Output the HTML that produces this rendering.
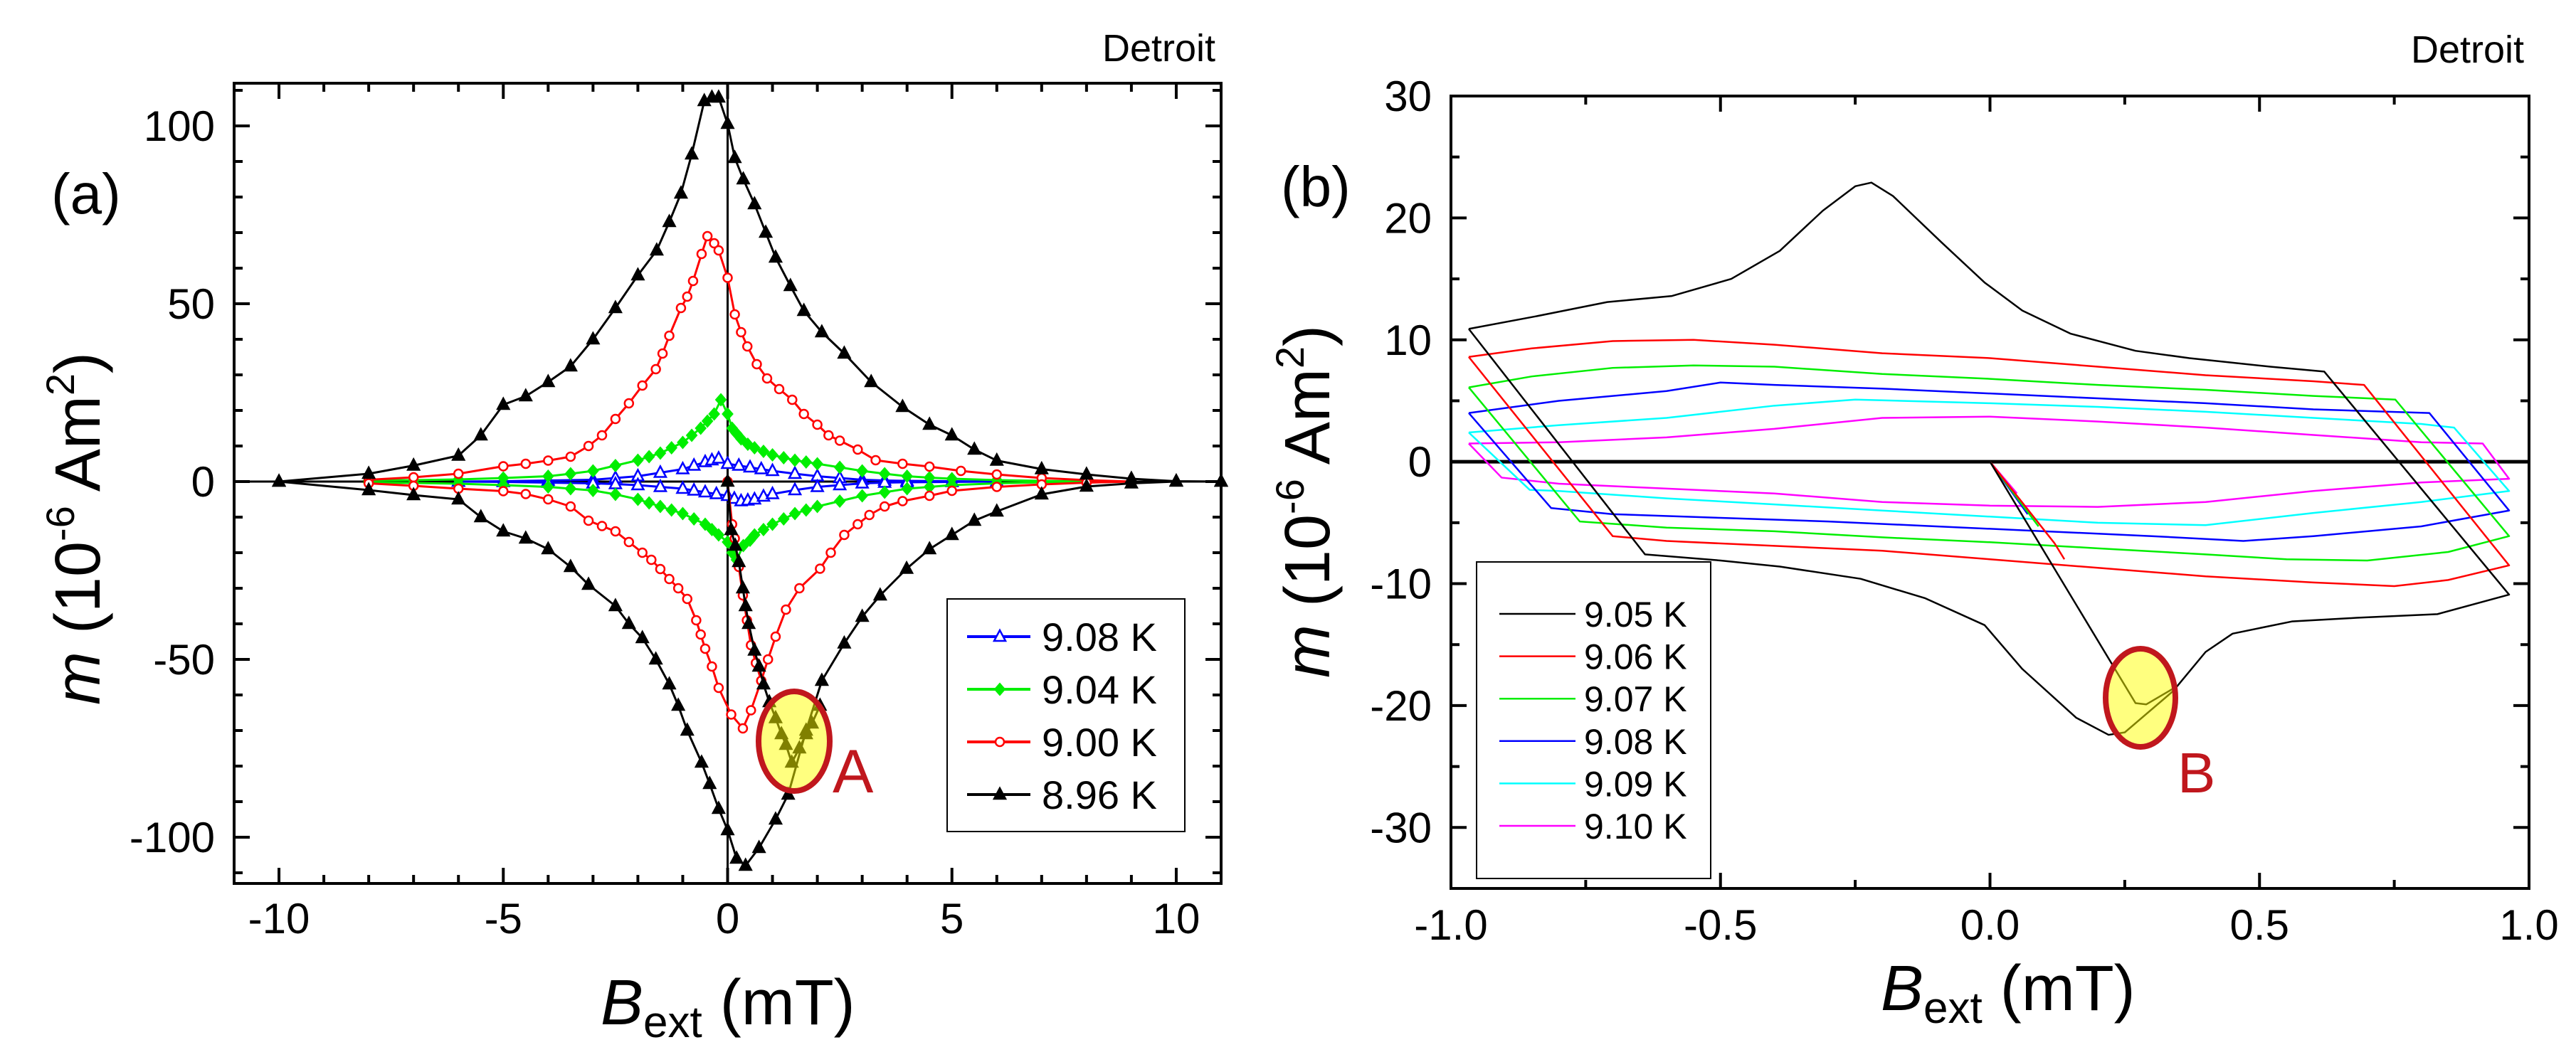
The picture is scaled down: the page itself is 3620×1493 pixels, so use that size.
<!DOCTYPE html>
<html><head><meta charset="utf-8">
<style>
html,body{margin:0;padding:0;background:#fff;}
svg{display:block;font-family:"Liberation Sans",sans-serif;}
</style></head>
<body>
<svg id="fig" width="3620" height="1493" viewBox="0 0 3620 1493" xmlns="http://www.w3.org/2000/svg">
<rect width="3620" height="1493" fill="#fff"/>
</svg>
<script>
// ---------- Panel (a) data ----------
const aXTicks = [-10, -5, 0, 5, 10];
const aYTicks = [100, 50, 0, -50, -100];
const aLegendLabels = ["9.08 K", "9.04 K", "9.00 K", "8.96 K"];
const aBlackUpper = [[-10,0],[-8,2.2],[-7,4.5],[-6,7.3],[-5.5,13],[-5,21.6],[-4.5,24],[-4,28],[-3.5,32.4],[-3,40],[-2.5,48.8],[-2,58],[-1.58,65],[-1.3,73],[-1.04,81],[-0.8,92],[-0.52,107],[-0.35,108],[-0.2,108],[0,100.6],[0.16,91],[0.35,85],[0.6,78],[0.85,70],[1.07,63],[1.4,55],[1.7,48],[2.1,42],[2.6,36],[3.2,28],[3.9,21],[4.5,16],[5,13],[5.5,9],[6,5.9],[7,3.5],[8,2],[9,0.8],[10,0.1],[11,0]];
const aBlackLower = [[-10,0],[-8,-2.4],[-7,-3.8],[-6,-5],[-5.5,-10],[-5,-14],[-4.5,-16],[-4,-19],[-3.5,-24],[-3.1,-29],[-2.5,-35],[-2.2,-40],[-1.9,-44],[-1.6,-50],[-1.3,-57],[-1.1,-63],[-0.9,-70],[-0.58,-79],[-0.4,-85],[-0.2,-92],[0,-98],[0.2,-106],[0.4,-108],[0.7,-103],[1.07,-95],[1.35,-88],[1.75,-70],[2.1,-56],[2.6,-45.5],[3,-38],[3.4,-32],[3.99,-24.5],[4.5,-19],[5,-15],[5.5,-11],[6,-8.4],[7,-3.6],[8,-1.4],[9,-0.5],[10,0],[11,0]];
const aBlackVirgin = [[0,0],[0.08,-13.6],[0.17,-18],[0.25,-22.6],[0.34,-30],[0.4,-35],[0.47,-40],[0.6,-47.5],[0.7,-52],[0.8,-57],[0.93,-62],[1.07,-66.5],[1.2,-71],[1.3,-74],[1.43,-79],[1.6,-75],[1.75,-71],[1.88,-68],[2.06,-63]];
const aRedUpper = [[-8,0.5],[-7,1.2],[-6,2.2],[-5,4.3],[-4.5,5],[-4,5.9],[-3.5,7],[-3.1,10],[-2.8,13],[-2.5,17.6],[-2.2,22],[-1.9,27],[-1.6,31.6],[-1.45,36],[-1.3,41],[-1.04,48.8],[-0.9,52],[-0.77,56.4],[-0.58,64],[-0.45,69],[-0.3,67],[-0.2,65],[0,57.3],[0.16,47],[0.3,42],[0.44,38],[0.65,33],[0.88,29],[1.15,26],[1.44,23],[1.7,19],[2,16],[2.25,13],[2.5,11.5],[2.9,9],[3.3,6],[3.9,5],[4.5,4.2],[5.2,3],[6,2],[7,1],[8,0.4],[9,0]];
const aRedLower = [[-8,-0.5],[-7,-1.2],[-6,-2],[-5,-2.7],[-4.5,-3.5],[-4,-5],[-3.5,-7],[-3.1,-11],[-2.8,-12.5],[-2.5,-14],[-2.2,-17],[-1.9,-20],[-1.7,-22],[-1.5,-24.6],[-1.3,-27.4],[-1.1,-30],[-0.9,-33],[-0.7,-39],[-0.6,-43],[-0.5,-47],[-0.35,-52],[-0.2,-58],[0.08,-65.5],[0.34,-69.4],[0.52,-64.3],[0.75,-56],[0.9,-50],[1.07,-43.6],[1.3,-36],[1.6,-30],[2.06,-24.5],[2.3,-20],[2.6,-15],[2.9,-12],[3.16,-9.4],[3.5,-7],[3.9,-5.5],[4.5,-4],[5,-2.6],[6,-1.5],[7,-0.8],[8,-0.3],[9,0]];
const aRedVirgin = [[0,0],[0.1,-12],[0.16,-16],[0.25,-24],[0.34,-32],[0.43,-39],[0.52,-46],[0.63,-51],[0.75,-56]];
const aGreenUpper = [[-8,0.3],[-7,0.4],[-6,0.6],[-5,1],[-4,1.5],[-3.5,2.2],[-3,3],[-2.5,4.5],[-2,6],[-1.75,7],[-1.5,8],[-1.25,9.5],[-1,11],[-0.8,13],[-0.6,15],[-0.45,17],[-0.3,19],[-0.15,23],[0,19],[0.1,15],[0.2,13.5],[0.3,12],[0.45,10.5],[0.6,9.5],[0.8,8.5],[1,7.5],[1.25,6.7],[1.5,6],[1.75,5.5],[2,5],[2.5,4],[3,3],[3.5,2.2],[4,1.5],[4.5,1.1],[5,0.8],[6,0.4],[7,0.2],[8,0]];
const aGreenLower = [[-8,-0.3],[-7,-0.4],[-6,-0.6],[-5,-1],[-4,-1.5],[-3.5,-2],[-3,-2.5],[-2.5,-3.6],[-2,-5],[-1.75,-6],[-1.5,-7],[-1.25,-8],[-1,-9],[-0.75,-10.5],[-0.5,-12],[-0.35,-13.5],[-0.2,-15],[0,-17],[0.1,-20],[0.2,-22],[0.35,-18],[0.5,-16.5],[0.6,-15],[0.8,-13.5],[1,-12],[1.25,-10.5],[1.5,-9],[1.75,-8],[2,-7],[2.5,-5.5],[3,-4],[3.5,-3],[4,-2],[4.5,-1.5],[5,-1],[6,-0.5],[7,-0.2],[8,0]];
const aBlueUpper = [[-6,0],[-5,0.1],[-4,0.3],[-3,0.5],[-2.5,1],[-2,1.5],[-1.5,2.5],[-1,3.5],[-0.75,4.5],[-0.5,5.5],[-0.35,6],[-0.2,6.5],[0,5],[0.25,4.5],[0.5,4],[0.75,3.5],[1,3],[1.5,2.2],[2,1.5],[2.5,1],[3,0.5],[3.5,0.3],[4,0.2],[5,0.1],[6,0]];
const aBlueLower = [[-6,0],[-5,-0.1],[-4,-0.3],[-3,-0.5],[-2.5,-0.7],[-2,-1],[-1.5,-1.5],[-1,-2],[-0.75,-2.5],[-0.5,-3],[-0.25,-3.5],[0,-4],[0.15,-4.8],[0.3,-5.5],[0.45,-5.3],[0.6,-5],[0.8,-4.2],[1,-3.5],[1.5,-2.4],[2,-1.5],[2.5,-1],[3,-0.5],[3.5,-0.3],[4,-0.2],[5,-0.1],[6,0]];

// ---------- Panel (b) data ----------
const bXTicks = [-1.0, -0.5, 0.0, 0.5, 1.0];
const bXTickLabels = ["-1.0", "-0.5", "0.0", "0.5", "1.0"];
const bYTicks = [30, 20, 10, 0, -10, -20, -30];
const bLegendLabels = ["9.05 K", "9.06 K", "9.07 K", "9.08 K", "9.09 K", "9.10 K"];
const bBlackLoop = [[-0.967,10.9],[-0.846,11.9],[-0.71,13.1],[-0.59,13.6],[-0.48,15],[-0.39,17.3],[-0.31,20.6],[-0.25,22.6],[-0.22,22.9],[-0.18,21.8],[-0.09,18],[-0.01,14.7],[0.06,12.4],[0.15,10.5],[0.27,9.1],[0.37,8.5],[0.52,7.8],[0.62,7.4],[0.963,-10.9],[0.83,-12.5],[0.68,-12.8],[0.56,-13.1],[0.45,-14.1],[0.4,-15.6],[0.34,-18.8],[0.25,-22.2],[0.22,-22.4],[0.16,-21],[0.06,-17],[-0.01,-13.4],[-0.12,-11.2],[-0.24,-9.6],[-0.39,-8.6],[-0.5,-8.1],[-0.64,-7.6],[-0.967,10.9]];
const bBlackVirgin = [[0,0],[0.27,-19.8],[0.29,-19.9],[0.34,-18.6]];
const bRedLoop = [[-0.967,8.6],[-0.85,9.3],[-0.7,9.9],[-0.55,10],[-0.4,9.6],[-0.2,8.9],[0,8.5],[0.2,7.8],[0.4,7.1],[0.6,6.6],[0.694,6.3],[0.963,-8.5],[0.85,-9.7],[0.75,-10.2],[0.6,-9.9],[0.4,-9.4],[0.2,-8.7],[0,-8],[-0.2,-7.3],[-0.4,-6.9],[-0.6,-6.5],[-0.7,-6.1],[-0.967,8.6]];
const bRedVirgin = [[0,0],[0.12,-6.7],[0.138,-8.0]];
const bGreenLoop = [[-0.967,6.1],[-0.85,7],[-0.7,7.7],[-0.55,7.9],[-0.4,7.8],[-0.2,7.2],[0,6.8],[0.2,6.3],[0.4,5.9],[0.6,5.4],[0.752,5.1],[0.963,-6.1],[0.85,-7.4],[0.7,-8.1],[0.55,-8.0],[0.4,-7.6],[0.2,-7.1],[0,-6.6],[-0.2,-6.2],[-0.4,-5.7],[-0.6,-5.4],[-0.761,-4.9],[-0.967,6.1]];
const bGreenVirgin = [[0,0],[0.09,-5.3]];
const bBlueLoop = [[-0.967,4.0],[-0.8,5],[-0.6,5.8],[-0.5,6.5],[-0.4,6.3],[-0.2,6],[0,5.6],[0.2,5.2],[0.4,4.8],[0.6,4.3],[0.815,4.0],[0.963,-4.0],[0.8,-5.3],[0.6,-6.1],[0.47,-6.5],[0.3,-6.1],[0.1,-5.7],[-0.1,-5.3],[-0.3,-4.9],[-0.5,-4.6],[-0.7,-4.3],[-0.814,-3.8],[-0.967,4.0]];
const bBlueVirgin = [[0,0],[0.07,-4.3]];
const bCyanLoop = [[-0.967,2.4],[-0.8,3],[-0.6,3.6],[-0.4,4.6],[-0.25,5.1],[0,4.8],[0.2,4.5],[0.4,4.1],[0.6,3.6],[0.8,3.1],[0.861,2.8],[0.963,-2.4],[0.8,-3.3],[0.6,-4.2],[0.4,-5.2],[0.2,-5],[0,-4.5],[-0.2,-4],[-0.4,-3.5],[-0.6,-3],[-0.8,-2.4],[-0.854,-2.3],[-0.967,2.4]];
const bCyanVirgin = [[0,0],[0.06,-3.4]];
const bMagentaLoop = [[-0.967,1.5],[-0.8,1.6],[-0.6,2],[-0.4,2.7],[-0.2,3.6],[0,3.7],[0.2,3.3],[0.4,2.8],[0.6,2.2],[0.8,1.6],[0.914,1.5],[0.963,-1.4],[0.8,-1.7],[0.6,-2.4],[0.4,-3.3],[0.2,-3.7],[0,-3.6],[-0.2,-3.3],[-0.4,-2.6],[-0.6,-2.2],[-0.8,-1.8],[-0.906,-1.3],[-0.967,1.5]];
const bMagentaVirgin = [[0,0],[0.05,-2.6]];

const NS = "http://www.w3.org/2000/svg";
const svg = document.getElementById("fig");
function mk(tag, attrs, parent) {
  const e = document.createElementNS(NS, tag);
  for (const k in attrs) e.setAttribute(k, attrs[k]);
  (parent || svg).appendChild(e);
  return e;
}
function txt(str, attrs, parent) { const t = mk("text", attrs, parent); t.textContent = str; return t; }

// ---------- Panel (a) ----------
const A = {x0:329, x1:1716, y0:117, y1:1242, xmin:-11, xmax:11, ymin:-113, ymax:112};
const ax = v => A.x0 + (v - A.xmin) / (A.xmax - A.xmin) * (A.x1 - A.x0);
const ay = v => A.y1 - (v - A.ymin) / (A.ymax - A.ymin) * (A.y1 - A.y0);
const gA = mk("g", {});



const zeroA = mk("g", {}, gA);


mk("line", {x1:A.x0, x2:A.x1, y1:ay(0), y2:ay(0), stroke:"#000", "stroke-width":3}, zeroA);
mk("line", {x1:ax(0), x2:ax(0), y1:A.y0, y2:A.y1, stroke:"#000", "stroke-width":3}, zeroA);

function polyA(pts, color, name, parent) {
  const p = mk("polyline", {points: pts.map(q => ax(q[0]) + "," + ay(q[1])).join(" "), fill:"none", stroke:color, "stroke-width":3, "stroke-linejoin":"round"}, parent);
  
  
}
function marker(kind, x, y, color, parent) {
  const s = 8;
  if (kind === "tri" || kind === "otri") {
    mk("polygon", {points:`${x},${y-s-1} ${x-s},${y+s-2} ${x+s},${y+s-2}`, fill: kind==="tri"?color:"#fff", stroke:color, "stroke-width":2.5}, parent);
  } else if (kind === "dia") {
    mk("polygon", {points:`${x},${y-s} ${x+s-1},${y} ${x},${y+s} ${x-s+1},${y}`, fill:color, stroke:color, "stroke-width":2}, parent);
  } else {
    mk("circle", {cx:x, cy:y, r:s-2, fill:"#fff", stroke:color, "stroke-width":2.5}, parent);
  }
}
function seriesA(arrs, color, kind, name) {
  const g = mk("g", {}, gA);
  
  
  arrs.forEach((pts, i) => {
    polyA(pts, color, name + "-line-" + i, g);
    pts.forEach(q => marker(kind, ax(q[0]), ay(q[1]), color, g));
  });
}
seriesA([aBlueUpper, aBlueLower], "#0000ff", "otri", "series-9-08k");
seriesA([aGreenUpper, aGreenLower], "#00ee00", "dia", "series-9-04k");
seriesA([aRedUpper, aRedLower, aRedVirgin], "#ff0000", "circ", "series-9-00k");
seriesA([aBlackUpper, aBlackLower, aBlackVirgin], "#000000", "tri", "series-8-96k");

function frameTicks(g, X0, X1, Y0, Y1, xMaj, xMin, yMaj, yMin) {
  mk("rect", {x:X0, y:Y0, width:X1-X0, height:Y1-Y0, fill:"none", stroke:"#000", "stroke-width":4}, g);
  xMin.forEach(x => { mk("line",{x1:x,x2:x,y1:Y1,y2:Y1-12,stroke:"#000","stroke-width":4},g); mk("line",{x1:x,x2:x,y1:Y0,y2:Y0+12,stroke:"#000","stroke-width":4},g); });
  xMaj.forEach(x => { mk("line",{x1:x,x2:x,y1:Y1,y2:Y1-22,stroke:"#000","stroke-width":4},g); mk("line",{x1:x,x2:x,y1:Y0,y2:Y0+22,stroke:"#000","stroke-width":4},g); });
  yMin.forEach(y => { mk("line",{x1:X0,x2:X0+12,y1:y,y2:y,stroke:"#000","stroke-width":4},g); mk("line",{x1:X1,x2:X1-12,y1:y,y2:y,stroke:"#000","stroke-width":4},g); });
  yMaj.forEach(y => { mk("line",{x1:X0,x2:X0+22,y1:y,y2:y,stroke:"#000","stroke-width":4},g); mk("line",{x1:X1,x2:X1-22,y1:y,y2:y,stroke:"#000","stroke-width":4},g); });
}
const axA = mk("g", {}, gA);


const aXMin = []; for (let v = -11; v <= 11; v++) if (v % 5) aXMin.push(ax(v));
const aYMin = []; for (let v = -110; v <= 110; v += 10) if (v % 50) aYMin.push(ay(v));
frameTicks(axA, A.x0, A.x1, A.y0, A.y1, aXTicks.map(ax), aXMin, aYTicks.map(ay), aYMin);

aXTicks.forEach(v => {
  const t = txt(String(v), {x:ax(v), y:1312, "font-size":60, "text-anchor":"middle"}, gA);
  
  
});
aYTicks.forEach(v => {
  const t = txt(String(v), {x:302, y:ay(v)+21, "font-size":60, "text-anchor":"end"}, gA);
  
  
});

// legend a
const legA = mk("g", {}, gA);


mk("rect", {x:1331, y:842, width:334, height:327, fill:"#fff", stroke:"#000", "stroke-width":2}, legA);
const legAColors = ["#0000ff", "#00ee00", "#ff0000", "#000000"];
const legAKinds = ["otri", "dia", "circ", "tri"];
aLegendLabels.forEach((lab, i) => {
  const y = 895 + i * 74;
  const e = mk("g", {}, legA);
  
  
  mk("line", {x1:1359, x2:1448, y1:y, y2:y, stroke:legAColors[i], "stroke-width":4}, e);
  marker(legAKinds[i], 1405, y, legAColors[i], e);
  txt(lab, {x:1464, y:y+20, "font-size":56}, e);
});

// ellipse A
const elA = mk("ellipse", {cx:1116, cy:1042, rx:50, ry:70, fill:"rgba(255,255,0,0.5)", stroke:"#c0171d", "stroke-width":8}, gA);


const lA = txt("A", {x:1170, y:1114, "font-size":86, fill:"#c0171d"}, gA);



const pA = txt("(a)", {x:72, y:300, "font-size":80}, gA);


const dA = txt("Detroit", {x:1708, y:86, "font-size":54, "text-anchor":"end"}, gA);



function xTitle(parent, x, y, name) {
  const t = mk("text", {x:x, y:y, "font-size":90}, parent);
  
  
  const b = mk("tspan", {"font-style":"italic"}, t); b.textContent = "B";
  const s = mk("tspan", {"font-size":62, dy:18}, t); s.textContent = "ext";
  const r = mk("tspan", {dy:-18}, t); r.textContent = " (mT)";
}
function yTitle(parent, cx, cy, name) {
  const t = mk("text", {x:0, y:0, "font-size":90, "text-anchor":"middle", transform:`translate(${cx},${cy}) rotate(-90)`}, parent);
  
  
  const m = mk("tspan", {"font-style":"italic"}, t); m.textContent = "m";
  const a = mk("tspan", {}, t); a.textContent = " (10";
  const e = mk("tspan", {"font-size":56, dy:-36}, t); e.textContent = "-6";
  const b = mk("tspan", {dy:36}, t); b.textContent = " Am";
  const c = mk("tspan", {"font-size":56, dy:-36}, t); c.textContent = "2";
  const d = mk("tspan", {dy:36}, t); d.textContent = ")";
}
xTitle(gA, 844, 1440, "x-axis-title-a");
yTitle(gA, 140, 743, "y-axis-title-a");

// ---------- Panel (b) ----------
const B = {x0:2039, x1:3554, y0:135, y1:1249, xmin:-1, xmax:1, ymin:-35, ymax:30};
const bx = v => B.x0 + (v - B.xmin) / (B.xmax - B.xmin) * (B.x1 - B.x0);
const by = v => B.y1 - (v - B.ymin) / (B.ymax - B.ymin) * (B.y1 - B.y0);
const gB = mk("g", {});



const zB = mk("line", {x1:B.x0, x2:B.x1, y1:by(0), y2:by(0), stroke:"#000", "stroke-width":5}, gB);



function seriesB(arrs, color, name) {
  const g = mk("g", {}, gB);
  
  
  arrs.forEach(pts => {
    mk("polyline", {points: pts.map(q => bx(q[0]) + "," + by(q[1])).join(" "), fill:"none", stroke:color, "stroke-width":2.5, "stroke-linejoin":"round"}, g);
  });
}
seriesB([bMagentaLoop, bMagentaVirgin], "#ff00ff", "series-9-10k");
seriesB([bCyanLoop, bCyanVirgin], "#00ffff", "series-9-09k");
seriesB([bBlueLoop, bBlueVirgin], "#0000ff", "series-9-08k-b");
seriesB([bGreenLoop, bGreenVirgin], "#00ee00", "series-9-07k");
seriesB([bRedLoop, bRedVirgin], "#ff0000", "series-9-06k");
seriesB([bBlackLoop, bBlackVirgin], "#000000", "series-9-05k");

const axB = mk("g", {}, gB);


const bXMin = [-0.75, -0.25, 0.25, 0.75].map(bx);
const bYMin = [25, 15, 5, -5, -15, -25, -35].map(by);
frameTicks(axB, B.x0, B.x1, B.y0, B.y1, bXTicks.map(bx), bXMin, bYTicks.map(by), bYMin);

bXTicks.forEach((v, i) => {
  const t = txt(bXTickLabels[i], {x:bx(v), y:1321, "font-size":60, "text-anchor":"middle"}, gB);
  
  
});
bYTicks.forEach(v => {
  const t = txt(String(v), {x:2012, y:by(v)+21, "font-size":60, "text-anchor":"end"}, gB);
  
  
});

const legB = mk("g", {}, gB);


mk("rect", {x:2075, y:790, width:329, height:445, fill:"#fff", stroke:"#000", "stroke-width":2}, legB);
const legBColors = ["#000000", "#ff0000", "#00ee00", "#0000ff", "#00ffff", "#ff00ff"];
bLegendLabels.forEach((lab, i) => {
  const y = 863 + i * 59.6;
  const e = mk("g", {}, legB);
  
  
  mk("line", {x1:2107, x2:2214, y1:y, y2:y, stroke:legBColors[i], "stroke-width":2.5}, e);
  txt(lab, {x:2226, y:y+18, "font-size":50}, e);
});

const elB = mk("ellipse", {cx:3008, cy:981, rx:49, ry:69, fill:"rgba(255,255,0,0.5)", stroke:"#c0171d", "stroke-width":8}, gB);


const lB = txt("B", {x:3060, y:1114, "font-size":80, fill:"#c0171d"}, gB);



const pB = txt("(b)", {x:1800, y:290, "font-size":80}, gB);


const dB = txt("Detroit", {x:3547, y:88, "font-size":54, "text-anchor":"end"}, gB);



xTitle(gB, 2643, 1420, "x-axis-title-b");
yTitle(gB, 1868, 705, "y-axis-title-b");
</script>
</body></html>
